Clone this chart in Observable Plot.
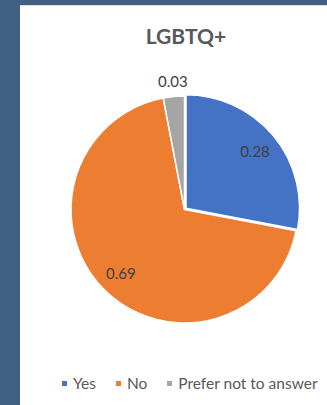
<!DOCTYPE html>
<html>
<head>
<meta charset="utf-8">
<script src="https://cdn.jsdelivr.net/npm/d3@7"></script>
<script src="https://cdn.jsdelivr.net/npm/@observablehq/plot@0.6"></script>
<style>
  html, body { margin: 0; padding: 0; }
  body { width: 327px; height: 405px; background: #416084; position: relative; overflow: hidden; font-family: Lato, "Liberation Sans", sans-serif; }
  #panel { position: absolute; left: 20px; top: 5px; width: 307px; height: 400px; background: #fff; border-top: 1px solid #d9d9d9; box-sizing: border-box; }
  #title { position: absolute; left: 0; width: 332px; top: 18px; text-align: center; font-size: 21px; font-weight: bold; color: #595959; line-height: 24px; }
  #chart { position: absolute; left: 0; top: 49px; }
  #legend { position: absolute; left: 42px; top: 367px; display: flex; align-items: center; font-size: 15.5px; color: #595959; line-height: 20px; white-space: nowrap; }
  .item { display: flex; align-items: center; margin-right: 20px; white-space: nowrap; }
  .sw { width: 5px; height: 5px; margin-right: 6px; }
</style>
</head>
<body>
<div id="panel">
  <div id="title"></div>
  <div id="chart"></div>
  <div id="legend"></div>
</div>
<script>
const title = "LGBTQ+";
const categories = ["Yes", "No", "Prefer not to answer"];
const values = [0.28, 0.69, 0.03];
const colors = ["#4472C4", "#ED7D31", "#A5A5A5"];

const rows = categories.map((c, i) => ({category: c, value: values[i], color: colors[i]}));
const arcs = d3.pie().sort(null).value(d => d.value)(rows);
const labels = arcs.map(a => {
  const mid = (a.startAngle + a.endAngle) / 2;
  const k = a.data.value < 0.05 ? 1.13 : 0.8;
  return {x: k * Math.sin(mid), y: k * Math.cos(mid), text: String(a.data.value)};
});

function pieMark(index, scales, values, dimensions, context) {
  const cx = scales.x(0), cy = scales.y(0);
  const r = scales.x(1) - scales.x(0);
  const g = d3.create("svg:g");
  const arcGen = d3.arc().innerRadius(0).outerRadius(r);
  arcs.forEach((a, i) => {
    const mid = (a.startAngle + a.endAngle) / 2;
    const off = i === 0 ? 2 : 0;
    g.append("path")
      .attr("d", arcGen(a))
      .attr("transform", `translate(${cx + off * Math.sin(mid)},${cy - off * Math.cos(mid)})`)
      .attr("fill", a.data.color)
      .attr("stroke", "#fff")
      .attr("stroke-width", 1.5)
      .attr("stroke-linejoin", "round");
  });
  return g.node();
}

const plot = Plot.plot({
  width: 307,
  height: 300,
  marginLeft: 51,
  marginRight: 29,
  marginTop: 41,
  marginBottom: 32,
  x: {domain: [-1, 1], axis: null},
  y: {domain: [-1, 1], axis: null},
  style: {background: "transparent", fontFamily: "Lato, 'Liberation Sans', sans-serif"},
  marks: [
    pieMark,
    Plot.text(labels, {x: "x", y: "y", text: "text", fontSize: 15, fill: "#404040"})
  ]
});
document.getElementById("chart").appendChild(plot);
document.getElementById("title").textContent = title;

const legend = document.getElementById("legend");
rows.forEach(r => {
  const it = document.createElement("div");
  it.className = "item";
  const sw = document.createElement("span");
  sw.className = "sw";
  sw.style.background = r.color;
  const t = document.createElement("span");
  t.textContent = r.category;
  it.appendChild(sw); it.appendChild(t);
  legend.appendChild(it);
});
</script>
</body>
</html>
